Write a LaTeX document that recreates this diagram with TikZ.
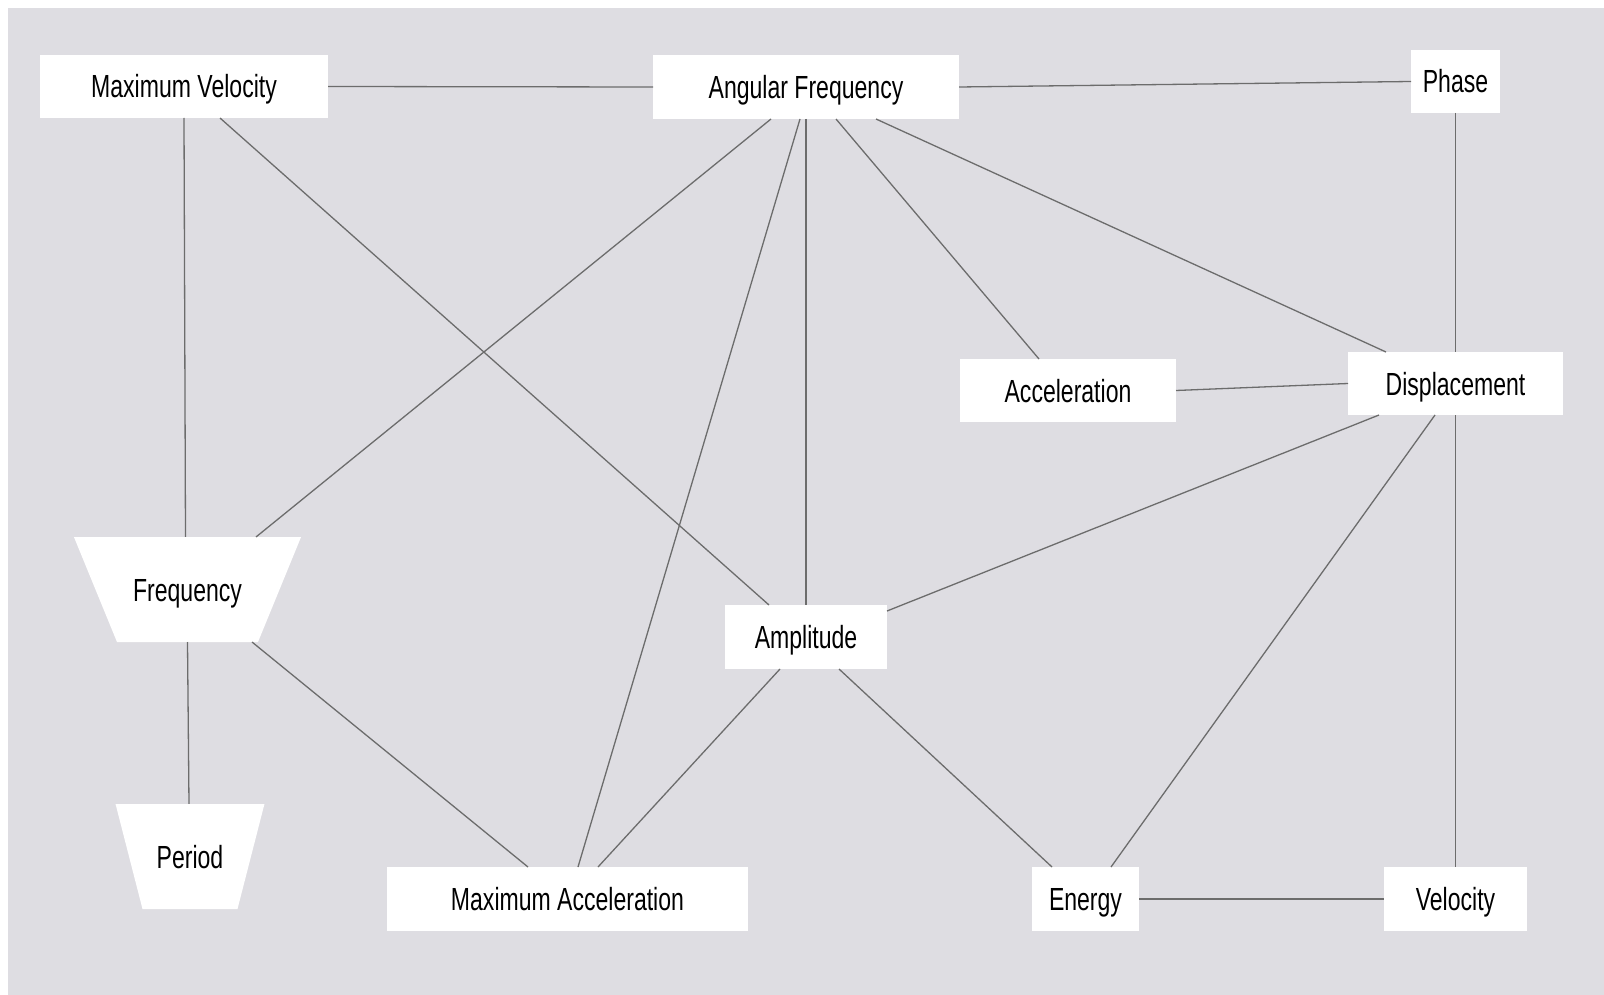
\documentclass[tikz,border=0pt]{standalone}
\usepackage{fontspec}
\usetikzlibrary{shapes.geometric}
\newfontfamily\labfont[FakeStretch=0.72]{Liberation Sans}
\definecolor{canvasgray}{RGB}{222,221,226}
\definecolor{linkgray}{RGB}{108,108,108}
\tikzset{
  concept/.style={rectangle, fill=white, draw=none, inner sep=0pt, outer sep=0pt,
    font=\labfont\fontsize{32}{36}\selectfont, text=black, align=center,
    text height=23pt, text depth=0pt},
  funnel/.style={concept, trapezium, shape border rotate=180, inner ysep=41pt},
  link/.style={draw=linkgray, line width=1.3pt}
}
\begin{document}
\begin{tikzpicture}[x=1pt,y=-1pt]
  \useasboundingbox (0,0) rectangle (1604,995);
  \fill[white] (0,0) rectangle (1604,995);
  \fill[canvasgray] (8,8) rectangle (1604,995);

  % concepts
  \node[concept, minimum width=288pt, minimum height=63pt] (mv) at (184,86.5) {Maximum Velocity};
  \node[concept, minimum width=306pt, minimum height=64pt] (af) at (806,87) {Angular Frequency};
  \node[concept, minimum width=89pt,  minimum height=63pt] (ph) at (1455.5,81.5) {Phase};
  \node[concept, minimum width=216pt, minimum height=63pt] (ac) at (1068,390.5) {Acceleration};
  \node[concept, minimum width=215pt, minimum height=63pt] (dp) at (1455.5,383.5) {Displacement};
  \node[funnel, trapezium angle=67.7, text width=141pt] (fq) at (187.5,589.5) {Frequency};
  \node[concept, minimum width=162pt, minimum height=64pt] (am) at (806,637) {Amplitude};
  \node[funnel, trapezium angle=75.6, text width=95pt] (pd) at (190,856.5) {Period};
  \node[concept, minimum width=361pt, minimum height=64pt] (ma) at (567.5,899) {Maximum Acceleration};
  \node[concept, minimum width=107pt, minimum height=64pt] (en) at (1085.5,899) {Energy};
  \node[concept, minimum width=143pt, minimum height=64pt] (ve) at (1455.5,899) {Velocity};

  % relations
  \draw[link] (mv.east) -- (af.west);
  \draw[link] (af.east) -- (ph.west);
  \draw[link] (mv.south) -- ([xshift=-2pt]fq.north);
  \draw[link] ([xshift=36pt]mv.south) -- ([xshift=-37pt]am.north);
  \draw[link] ([xshift=-35pt]af.south) -- ([xshift=68.5pt]fq.north);
  \draw[link] ([xshift=-6pt]af.south) -- ([xshift=10.5pt]ma.north);
  \draw[link] (af.south) -- (am.north);
  \draw[link] ([xshift=30pt]af.south) -- ([xshift=-29pt]ac.north);
  \draw[link] ([xshift=70pt]af.south) -- ([xshift=-69.5pt]dp.north);
  \draw[link] (ph.south) -- (dp.north);
  \draw[link] (ac.east) -- (dp.west);
  \draw[link] ([xshift=-76.5pt]dp.south) -- ([yshift=-6pt]am.north east);
  \draw[link] ([xshift=-20.5pt]dp.south) -- ([xshift=25.5pt]en.north);
  \draw[link] (dp.south) -- (ve.north);
  \draw[link] (fq.south) -- ([xshift=-1pt]pd.north);
  \draw[link] ([xshift=64.5pt]fq.south) -- ([xshift=-39.5pt]ma.north);
  \draw[link] ([xshift=-26pt]am.south) -- ([xshift=30.5pt]ma.north);
  \draw[link] ([xshift=33pt]am.south) -- ([xshift=-33.5pt]en.north);
  \draw[link] (en.east) -- (ve.west);
\end{tikzpicture}
\end{document}
